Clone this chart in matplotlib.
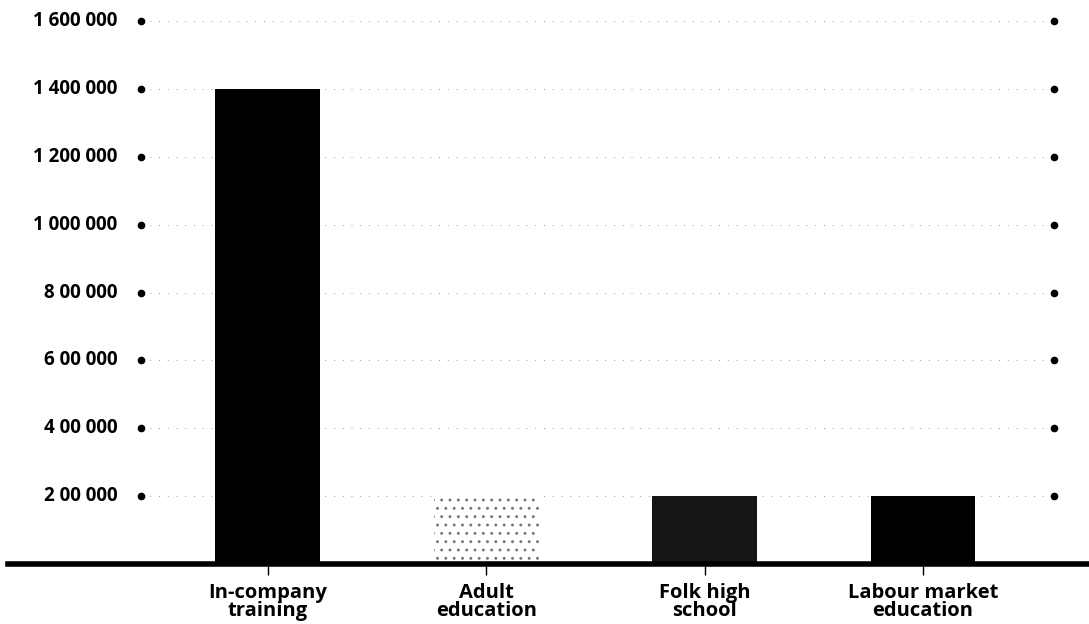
import matplotlib.pyplot as plt
import numpy as np

# Participants by type of education
categories = ['In-company\ntraining', 'Adult\neducation', 'Folk high\nschool', 'Labour market\neducation']
participants = [1400000, 200000, 200000, 200000]
tick_values = [200000, 400000, 600000, 800000, 1000000, 1200000, 1400000, 1600000]
tick_labels = ['2 00 000', '4 00 000', '6 00 000', '8 00 000',
               '1 000 000', '1 200 000', '1 400 000', '1 600 000']

plt.rcParams['font.family'] = ['Open Sans', 'DejaVu Sans']
plt.rcParams['hatch.linewidth'] = 0.9

fig = plt.figure(figsize=(10.89, 6.24), dpi=100)
ax = fig.add_axes([8 / 1089, 60 / 624, 1081 / 1089, 564 / 624])

x = np.arange(len(categories))
left_dot, right_dot = -0.58, 3.6

# faint dotted gridlines with a dot at each end
for v in tick_values:
    ax.plot([left_dot, right_dot], [v, v], color='#999999', lw=0.7,
            linestyle=(0, (1, 8)), zorder=1)
ax.plot([left_dot] * len(tick_values), tick_values, 'o', color='black', ms=4.5, zorder=3)
ax.plot([right_dot] * len(tick_values), tick_values, 'o', color='black', ms=4.5, zorder=3)

# bars
styles = [
    dict(color='black'),
    dict(facecolor='white', edgecolor='#777777', hatch='..', linewidth=0),
    dict(color='#151515'),
    dict(color='black'),
]
for xi, val, st in zip(x, participants, styles):
    ax.bar(xi, val, width=0.48, zorder=2, **st)

ax.set_xlim(-1.19, 3.76)
ax.set_ylim(0, 1662000)

for v, lab in zip(tick_values, tick_labels):
    ax.text(-0.69, v, lab, ha='right', va='center', fontsize=13.5,
            fontweight='bold')

ax.set_yticks([])
ax.set_xticks(x)
ax.set_xticklabels(categories, fontsize=14.5, fontweight='bold', linespacing=0.82)
ax.tick_params(axis='x', length=8, width=1, color='black', pad=6)

for side in ['top', 'right', 'left']:
    ax.spines[side].set_visible(False)
ax.spines['bottom'].set_linewidth(4)
ax.spines['bottom'].set_zorder(4)

fig.savefig('out.png', dpi=100)
